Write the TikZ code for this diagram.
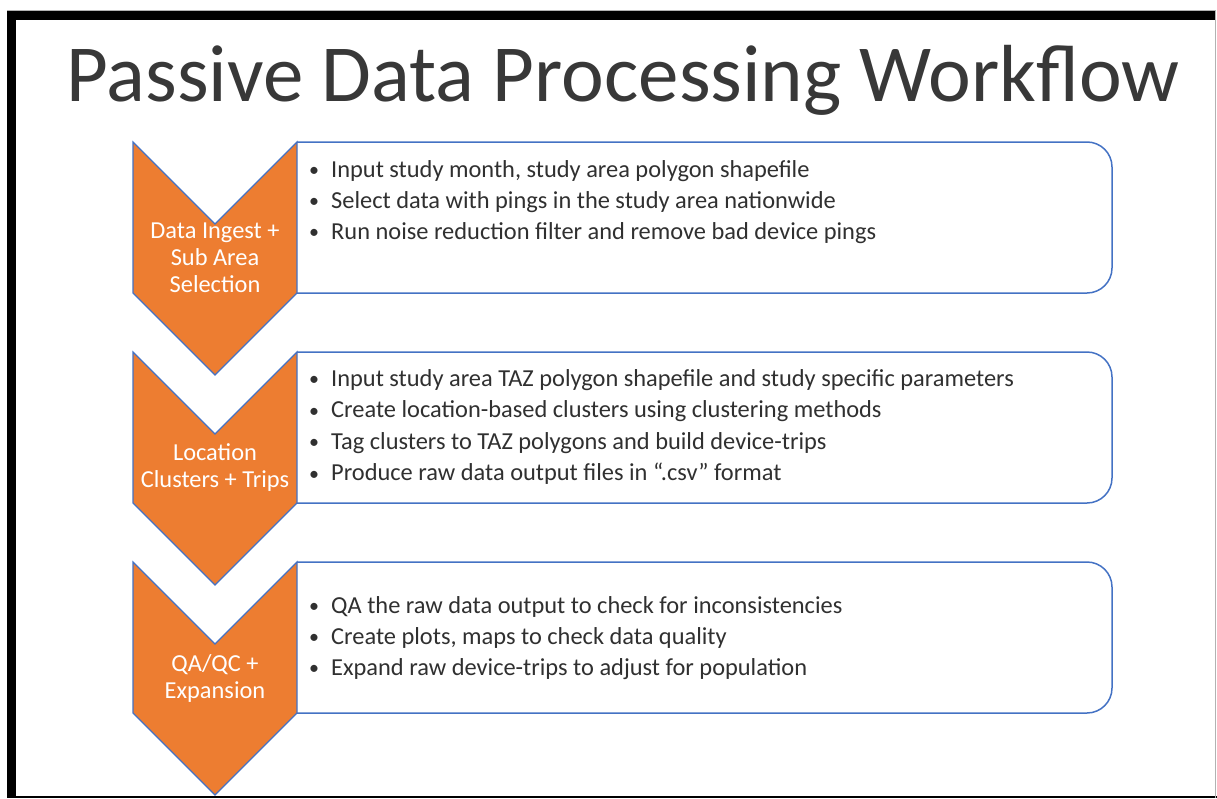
\documentclass[tikz,border=0pt]{standalone}
\usepackage{fontspec}
\setmainfont{Carlito}
\definecolor{orng}{HTML}{ED7D31}
\definecolor{bblue}{HTML}{4472C4}
\definecolor{txt}{HTML}{303030}
\definecolor{ttl}{HTML}{383838}
\begin{document}
\begin{tikzpicture}[x=1pt,y=-1pt,
  chev/.style={fill=orng, draw=bblue, line width=1.2pt, line join=miter},
  listbox/.style={draw=bblue, line width=1.5pt, fill=white, rounded corners=25pt},
  bul/.style={anchor=base west, inner sep=0pt, text=txt, font=\fontsize{24.4}{28}\selectfont},
  lab/.style={anchor=base, inner sep=0pt, text=white, font=\fontsize{24.4}{28}\selectfont},
  dot/.style={anchor=base, inner sep=0pt, text=txt, font=\fontsize{20}{24}\selectfont}
]
\useasboundingbox (0,0) rectangle (1217,798);
\fill[white] (0,0) rectangle (1217,798);
% frame
\fill[black] (7,11) rectangle (16,798);
\fill[black] (7,11) rectangle (1216,19.5);
\fill[black] (7,795.5) rectangle (1217,798);
\draw[gray!60, line width=1pt] (1215.5,11) -- (1215.5,798);
\draw[gray!60, line width=0.8pt] (7,10.5) -- (1216,10.5);

\node[anchor=base, inner sep=0pt, text=ttl, font=\fontsize{81}{84}\selectfont] (title) at (623,101) {Passive Data Processing Workflow};

% stage boxes and chevrons
\foreach \T in {142,352,562}{
  \draw[listbox] (297,\T) -- (1112,\T) -- (1112,\T+151) -- (297,\T+151);
  \draw[chev] (133,\T) -- (215,\T+82) -- (297,\T) -- (297,\T+151) -- (215,\T+233) -- (133,\T+151) -- cycle;
}

% stage labels
\node[lab] (l11) at (215,238) {Data Ingest +};
\node[lab] (l12) at (215,265) {Sub Area};
\node[lab] (l13) at (215,292) {Selection};
\node[lab] (l21) at (215,460) {Location};
\node[lab] (l22) at (215,487) {Clusters + Trips};
\node[lab] (l31) at (215,671) {QA/QC +};
\node[lab] (l32) at (215,698) {Expansion};

% bullets box 1
\node[dot] (d11) at (314,176.5) {•};
\node[bul] (b11) at (331,177) {Input study month, study area polygon shapefile};
\node[dot] (d12) at (314,207.5) {•};
\node[bul] (b12) at (331,208) {Select data with pings in the study area nationwide};
\node[dot] (d13) at (314,238.5) {•};
\node[bul] (b13) at (331,239) {Run noise reduction filter and remove bad device pings};

% bullets box 2
\node[dot] (d21) at (314,385.5) {•};
\node[bul] (b21) at (331,386) {Input study area TAZ polygon shapefile and study specific parameters};
\node[dot] (d22) at (314,417) {•};
\node[bul] (b22) at (331,417.5) {Create location-based clusters using clustering methods};
\node[dot] (d23) at (314,448.5) {•};
\node[bul] (b23) at (331,449) {Tag clusters to TAZ polygons and build device-trips};
\node[dot] (d24) at (314,480) {•};
\node[bul] (b24) at (331,480.5) {Produce raw data output files in “.csv” format};

% bullets box 3
\node[dot] (d31) at (314,612.5) {•};
\node[bul] (b31) at (331,613) {QA the raw data output to check for inconsistencies};
\node[dot] (d32) at (314,643.5) {•};
\node[bul] (b32) at (331,644) {Create plots, maps to check data quality};
\node[dot] (d33) at (314,674.5) {•};
\node[bul] (b33) at (331,675) {Expand raw device-trips to adjust for population};
\end{tikzpicture}
\end{document}
